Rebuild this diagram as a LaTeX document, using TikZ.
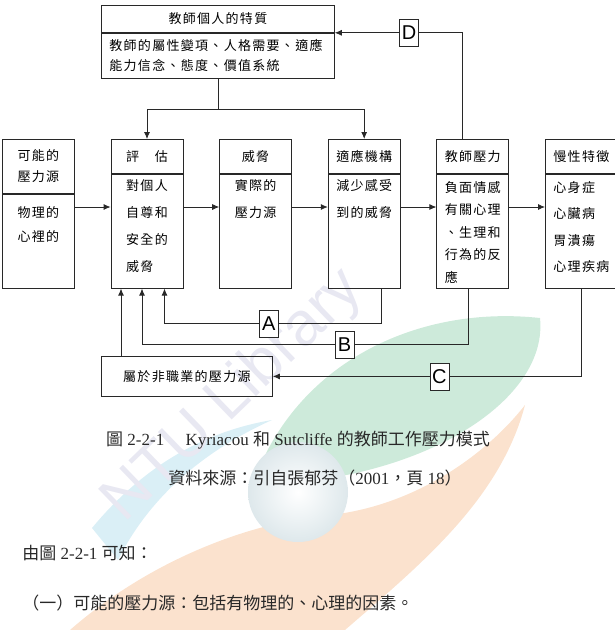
\documentclass[tikz,border=0pt]{standalone}
\usepackage{fontspec}
\setmainfont{Liberation Serif}
\newfontfamily\cjk[LetterSpace=10]{Noto Sans CJK TC}
\newfontfamily\cjkplain{Noto Sans CJK TC}
\newfontfamily\labfont{Liberation Sans}
\usetikzlibrary{positioning,arrows.meta}

\definecolor{wmgreen}{RGB}{205,234,218}
\definecolor{wmorange}{RGB}{251,226,206}
\definecolor{wmcyan}{RGB}{218,239,246}
\definecolor{wmtext}{RGB}{232,232,242}
\definecolor{ink}{RGB}{40,40,40}

\newcommand\boxfont{\cjk\fontsize{13}{27}\selectfont}

\tikzset{
  head/.style={draw, minimum width=72pt, minimum height=34pt, inner sep=0pt, font=\boxfont},
  body/.style={draw, minimum width=72pt, minimum height=114pt, inner sep=0pt},
  bodytext/.style={anchor=north, align=left, inner sep=0pt, font=\boxfont},
  lab/.style={draw, fill=white, minimum width=19pt, minimum height=27pt, inner sep=1pt,
    font=\labfont\fontsize{20}{20}\selectfont},
}

\begin{document}
\begin{tikzpicture}[x=1pt, y=-1pt, node distance=35.8pt, line width=0.8pt, draw=ink,
    >={Latex[length=7pt,width=6pt]}]
    \useasboundingbox (0,0) rectangle (615,630);

    % watermark in the background
    \fill[wmgreen] (255,478) .. controls (300,360) and (420,305) .. (540,318)
        .. controls (548,395) and (440,468) .. (300,482) -- cycle;
    \fill[wmorange] (70,630) .. controls (150,560) and (250,522) .. (330,515)
        .. controls (420,505) and (490,450) .. (525,405)
        .. controls (500,500) and (420,565) .. (345,630) -- cycle;
    \fill[wmcyan] (92,528) .. controls (140,470) and (200,432) .. (272,420)
        .. controls (210,448) and (152,492) .. (118,560) -- cycle;
    \shade[inner color=white, outer color=wmcyan!80!gray!60] (298,492) circle (50);
    \node[text=wmtext, rotate=44, font=\labfont\fontsize{62}{62}\selectfont] (wm) at (234,396) {NTU Library};

    % teacher characteristics
    \node[draw, minimum width=233pt, minimum height=27pt, anchor=north west, inner sep=0pt,
        font=\boxfont] (pers) at (101,5) {教師個人的特質};
    \node[draw, minimum width=233pt, minimum height=45pt, below=0pt of pers, inner sep=0pt,
        text width=217pt, align=left, font={\cjk\fontsize{13}{20}\selectfont}] (persb)
        {教師的屬性變項、人格需要、適應\\能力信念、態度、價值系統};

    % the six columns
    \node[head, minimum height=54pt, anchor=north west, align=center,
        font={\cjk\fontsize{13}{21}\selectfont}] (src) at (2,139) {可能的\\壓力源};
    \node[body, minimum height=94pt, below=0pt of src] (srcb) {};
    \node[head, right=35.8pt of src.north east, anchor=north west] (eval) {評　估};
    \node[body, below=0pt of eval] (evalb) {};
    \node[head, right=of eval] (threat) {威脅};
    \node[body, below=0pt of threat] (threatb) {};
    \node[head, right=of threat] (adapt) {適應機構};
    \node[body, below=0pt of adapt] (adaptb) {};
    \node[head, right=of adapt] (stress) {教師壓力};
    \node[body, below=0pt of stress] (stressb) {};
    \node[head, right=of stress] (chron) {慢性特徵};
    \node[body, below=0pt of chron] (chronb) {};

    \node[bodytext, font={\cjk\fontsize{13}{24}\selectfont}] (srct) at ([yshift=-12pt]srcb.north) {物理的\\心裡的};
    \node[bodytext] (evalt) at ([yshift=-5pt]evalb.north) {對個人\\自尊和\\安全的\\威脅};
    \node[bodytext] (threatt) at ([yshift=-5pt]threatb.north) {實際的\\壓力源};
    \node[bodytext] (adaptt) at ([yshift=-5pt]adaptb.north) {減少感受\\到的威脅};
    \node[bodytext, font={\cjk\fontsize{13}{22.5}\selectfont}] (stresst) at ([yshift=-7pt]stressb.north)
        {負面情感\\有關心理\\、生理和\\行為的反\\應};
    \node[bodytext, font={\cjk\fontsize{13}{26.5}\selectfont}] (chront) at ([yshift=-7pt]chronb.north)
        {心身症\\心臟病\\胃潰瘍\\心理疾病};

    \node[draw, minimum width=171pt, minimum height=40pt, anchor=north west, inner sep=0pt,
        font=\boxfont] (nonwork) at (101,356) {屬於非職業的壓力源};

    % main flow
    \coordinate (lvl) at (0,207);
    \foreach \a/\b in {srcb/evalb, evalb/threatb, threatb/adaptb, adaptb/stressb, stressb/chronb}
        \draw[->] (\a.east |- lvl) -- (\b.west |- lvl);

    % teacher characteristics feed appraisal and coping
    \draw[->] (persb.south) -- ++(0,31) -| (eval.north);
    \draw[->] (persb.south) -- ++(0,31) -| (adapt.north);

    % feedback loops
    \draw[->] ([xshift=-10pt]stress.north) |- node[lab, pos=0.71] (D) {D} (persb.north east);
    \draw[->] ([xshift=17.5pt]adaptb.south) -- ++(0,35) -| node[lab, pos=0.26] (A) {A}
        ([xshift=17.5pt]evalb.south);
    \draw[->] ([xshift=-4pt]stressb.south) -- ++(0,56) -| node[lab, pos=0.19] (B) {B}
        ([xshift=-5pt]evalb.south);
    \draw[->] (chronb.south) |- node[lab, pos=0.73] (C) {C} (nonwork.east);
    \coordinate (up) at ([xshift=-26pt]evalb.south);
    \draw[->] (nonwork.north -| up) -- (up);

    % caption and text
    \node[text=ink, font=\fontsize{17}{17}\selectfont] (cap) at (298,440)
        {{\cjkplain 圖} 2-2-1\quad\ Kyriacou {\cjkplain 和} Sutcliffe {\cjkplain 的教師工作壓力模式}};
    \node[text=ink, font=\fontsize{17}{17}\selectfont] (ref) at (315,478)
        {{\cjkplain 資料來源：引自張郁芬（}2001{\cjkplain ，頁} 18{\cjkplain ）}};
    \node[text=ink, anchor=west, inner sep=0pt, font=\fontsize{17}{17}\selectfont] (par1) at (22,553)
        {{\cjkplain 由圖} 2-2-1 {\cjkplain 可知：}};
    \node[text=ink, anchor=west, inner sep=0pt, font=\fontsize{17}{17}\selectfont] (par2) at (22,603)
        {{\cjkplain （一）可能的壓力源：包括有物理的、心理的因素。}};
\end{tikzpicture}
\end{document}
